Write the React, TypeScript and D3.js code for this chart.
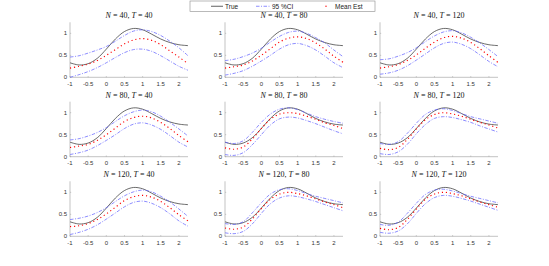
import React from "react";
import * as d3 from "d3";

// ---- data ----
const xGrid = [-1, -0.75, -0.5, -0.25, 0, 0.25, 0.5, 0.75, 1, 1.25, 1.5, 1.75, 2, 2.25];
const trueVals = [0.33, 0.28, 0.31, 0.43, 0.64, 0.87, 1.04, 1.11, 1.08, 0.98, 0.87, 0.79, 0.74, 0.72];

const titlesN = ["40", "80", "120"];
const titlesT = ["40", "80", "120"];

// N=40
const up_40_40 = [0.46, 0.49, 0.55, 0.62, 0.7, 0.82, 0.95, 1.05, 1.08, 1.04, 0.95, 0.82, 0.67, 0.49];
const mean_40_40 = [0.21, 0.25, 0.3, 0.38, 0.5, 0.63, 0.76, 0.85, 0.88, 0.84, 0.74, 0.6, 0.46, 0.31];
const low_40_40 = [0.0, 0.06, 0.13, 0.22, 0.33, 0.45, 0.56, 0.63, 0.64, 0.59, 0.49, 0.37, 0.25, 0.16];

const up_40_80 = [0.38, 0.41, 0.47, 0.55, 0.66, 0.8, 0.93, 1.02, 1.05, 1.0, 0.9, 0.78, 0.62, 0.47];
const mean_40_80 = [0.21, 0.24, 0.28, 0.37, 0.5, 0.65, 0.8, 0.89, 0.92, 0.88, 0.78, 0.64, 0.48, 0.34];
const low_40_80 = [0.05, 0.09, 0.15, 0.25, 0.37, 0.5, 0.64, 0.74, 0.77, 0.72, 0.62, 0.48, 0.33, 0.22];

const up_40_120 = [0.4, 0.42, 0.48, 0.56, 0.67, 0.81, 0.94, 1.03, 1.06, 1.01, 0.91, 0.78, 0.63, 0.47];
const mean_40_120 = [0.21, 0.24, 0.29, 0.38, 0.51, 0.66, 0.8, 0.9, 0.93, 0.89, 0.79, 0.65, 0.49, 0.34];
const low_40_120 = [0.07, 0.1, 0.16, 0.26, 0.39, 0.53, 0.67, 0.77, 0.8, 0.75, 0.65, 0.51, 0.36, 0.24];

// N=80
const up_80_40 = [0.38, 0.41, 0.47, 0.55, 0.66, 0.8, 0.93, 1.02, 1.06, 1.02, 0.92, 0.78, 0.63, 0.47];
const mean_80_40 = [0.21, 0.24, 0.28, 0.37, 0.5, 0.65, 0.8, 0.89, 0.92, 0.88, 0.78, 0.64, 0.48, 0.34];
const low_80_40 = [0.05, 0.09, 0.15, 0.25, 0.37, 0.5, 0.64, 0.74, 0.77, 0.72, 0.62, 0.48, 0.33, 0.22];

const up_80_80 = [0.33, 0.3, 0.36, 0.55, 0.78, 0.97, 1.08, 1.11, 1.07, 0.99, 0.91, 0.85, 0.8, 0.76];
const mean_80_80 = [0.2, 0.17, 0.22, 0.4, 0.64, 0.85, 0.97, 1.0, 0.98, 0.92, 0.85, 0.77, 0.71, 0.64];
const low_80_80 = [0.05, 0.03, 0.09, 0.27, 0.5, 0.72, 0.86, 0.9, 0.88, 0.82, 0.75, 0.67, 0.59, 0.52];

const up_80_120 = [0.3, 0.28, 0.34, 0.53, 0.76, 0.96, 1.06, 1.09, 1.05, 0.98, 0.91, 0.86, 0.81, 0.76];
const mean_80_120 = [0.19, 0.16, 0.21, 0.39, 0.63, 0.84, 0.96, 1.0, 0.97, 0.92, 0.85, 0.78, 0.72, 0.65];
const low_80_120 = [0.07, 0.05, 0.11, 0.28, 0.52, 0.73, 0.87, 0.91, 0.89, 0.84, 0.78, 0.7, 0.63, 0.56];

// N=120
const up_120_40 = [0.38, 0.41, 0.46, 0.54, 0.65, 0.79, 0.92, 1.01, 1.05, 1.01, 0.91, 0.78, 0.62, 0.45];
const mean_120_40 = [0.22, 0.24, 0.29, 0.38, 0.51, 0.66, 0.81, 0.9, 0.93, 0.89, 0.79, 0.65, 0.49, 0.35];
const low_120_40 = [0.04, 0.09, 0.16, 0.26, 0.39, 0.53, 0.67, 0.77, 0.8, 0.75, 0.65, 0.51, 0.35, 0.23];

const up_120_80 = [0.29, 0.27, 0.33, 0.53, 0.76, 0.96, 1.06, 1.08, 1.04, 0.97, 0.91, 0.86, 0.81, 0.76];
const mean_120_80 = [0.19, 0.16, 0.21, 0.39, 0.63, 0.84, 0.96, 1.0, 0.97, 0.92, 0.85, 0.78, 0.72, 0.65];
const low_120_80 = [0.08, 0.06, 0.11, 0.28, 0.52, 0.74, 0.87, 0.92, 0.9, 0.85, 0.79, 0.72, 0.65, 0.58];

const up_120_120 = [0.27, 0.25, 0.32, 0.52, 0.75, 0.95, 1.05, 1.07, 1.03, 0.97, 0.91, 0.86, 0.81, 0.76];
const mean_120_120 = [0.18, 0.15, 0.2, 0.38, 0.62, 0.84, 0.96, 1.0, 0.97, 0.92, 0.85, 0.78, 0.72, 0.66];
const low_120_120 = [0.09, 0.07, 0.12, 0.28, 0.52, 0.74, 0.88, 0.93, 0.91, 0.86, 0.8, 0.73, 0.66, 0.59];

const panelSeries = [
  [[up_40_40, mean_40_40, low_40_40], [up_40_80, mean_40_80, low_40_80], [up_40_120, mean_40_120, low_40_120]],
  [[up_80_40, mean_80_40, low_80_40], [up_80_80, mean_80_80, low_80_80], [up_80_120, mean_80_120, low_80_120]],
  [[up_120_40, mean_120_40, low_120_40], [up_120_80, mean_120_80, low_120_80], [up_120_120, mean_120_120, low_120_120]],
];

const xTicks = [-1, -0.5, 0, 0.5, 1, 1.5, 2];
const yTicks = [0, 0.5, 1];

// ---- layout ----
const colLeft = [70, 225, 380];
const rowBottom = [77.3, 156.7, 236.3];
const plotW = 118;
const plotH = 55;

const CI_COLOR = "#5b5bff";
const TRUE_COLOR = "#3a3a3a";
const MEAN_COLOR = "#ff0000";

function Panel({ r, c }: { r: number; c: number }) {
  const x0 = colLeft[c];
  const yb = rowBottom[r];
  const x = d3.scaleLinear().domain([-1, 2.25]).range([x0, x0 + plotW]);
  const y = d3.scaleLinear().domain([0, 1.25]).range([yb, yb - plotH]);
  const line = d3
    .line<number>()
    .x((_, i) => x(xGrid[i]))
    .y((d) => y(d))
    .curve(d3.curveCatmullRom);
  const [up, mean, low] = panelSeries[r][c];
  return (
    <g>
      <text
        x={x0 + plotW / 2}
        y={yb - plotH - 4}
        textAnchor="middle"
        fontFamily="'Liberation Serif', 'DejaVu Serif', serif"
        fontSize={8}
        fill="#111"
      >
        <tspan fontStyle="italic">N</tspan>
        {" = " + titlesN[r] + ", "}
        <tspan fontStyle="italic">T</tspan>
        {" = " + titlesT[c]}
      </text>
      <line x1={x0} x2={x0 + plotW} y1={yb} y2={yb} stroke="#9a9a9a" strokeWidth={0.6} />
      <line x1={x0} x2={x0} y1={yb} y2={yb - plotH} stroke="#9a9a9a" strokeWidth={0.6} />
      {xTicks.map((t) => (
        <g key={"x" + t}>
          <line x1={x(t)} x2={x(t)} y1={yb} y2={yb - 1.2} stroke="#9a9a9a" strokeWidth={0.5} />
          <text
            x={x(t)}
            y={yb + 8.5}
            textAnchor="middle"
            fontFamily="'Liberation Sans', Arial, sans-serif"
            fontSize={6}
            fill="#333"
          >
            {t}
          </text>
        </g>
      ))}
      {yTicks.map((t) => (
        <g key={"y" + t}>
          <line x1={x0} x2={x0 + 1.2} y1={y(t)} y2={y(t)} stroke="#9a9a9a" strokeWidth={0.5} />
          <text
            x={x0 - 3}
            y={y(t) + 2}
            textAnchor="end"
            fontFamily="'Liberation Sans', Arial, sans-serif"
            fontSize={6}
            fill="#333"
          >
            {t}
          </text>
        </g>
      ))}
      <path d={line(trueVals) || ""} fill="none" stroke={TRUE_COLOR} strokeWidth={0.75} />
      <path d={line(up) || ""} fill="none" stroke={CI_COLOR} strokeWidth={0.7} strokeDasharray="3.5,1.5,1,1.5" />
      <path d={line(low) || ""} fill="none" stroke={CI_COLOR} strokeWidth={0.7} strokeDasharray="3.5,1.5,1,1.5" />
      <path d={line(mean) || ""} fill="none" stroke={MEAN_COLOR} strokeWidth={1.15} strokeDasharray="1.15,2.85" />
    </g>
  );
}

function Legend() {
  const bx = 190, by = 1, bw = 185, bh = 10.5;
  const ty = by + bh / 2 + 2.3;
  const font = "'Liberation Sans', Arial, sans-serif";
  return (
    <g>
      <rect x={bx} y={by} width={bw} height={bh} fill="#fff" stroke="#8a8a8a" strokeWidth={0.6} />
      <line x1={211} x2={223} y1={by + bh / 2} y2={by + bh / 2} stroke={TRUE_COLOR} strokeWidth={0.8} />
      <text x={225} y={ty} fontFamily={font} fontSize={6.5} fill="#222">True</text>
      <line x1={256} x2={270} y1={by + bh / 2} y2={by + bh / 2} stroke={CI_COLOR} strokeWidth={0.7} strokeDasharray="3.5,1.5,1,1.5" />
      <text x={272} y={ty} fontFamily={font} fontSize={6.5} fill="#222">95 %CI</text>
      <rect x={325.4} y={by + bh / 2 - 0.6} width={1.2} height={1.2} fill={MEAN_COLOR} />
      <text x={335} y={ty} fontFamily={font} fontSize={6.5} fill="#222">Mean Est</text>
    </g>
  );
}

export default function App() {
  return (
    <svg
      width={549}
      height={266}
      style={{ position: "absolute", left: 0, top: 0, background: "#fff" }}
    >
      {[0, 1, 2].map((r) => [0, 1, 2].map((c) => <Panel key={r + "-" + c} r={r} c={c} />))}
      <Legend />
    </svg>
  );
}
